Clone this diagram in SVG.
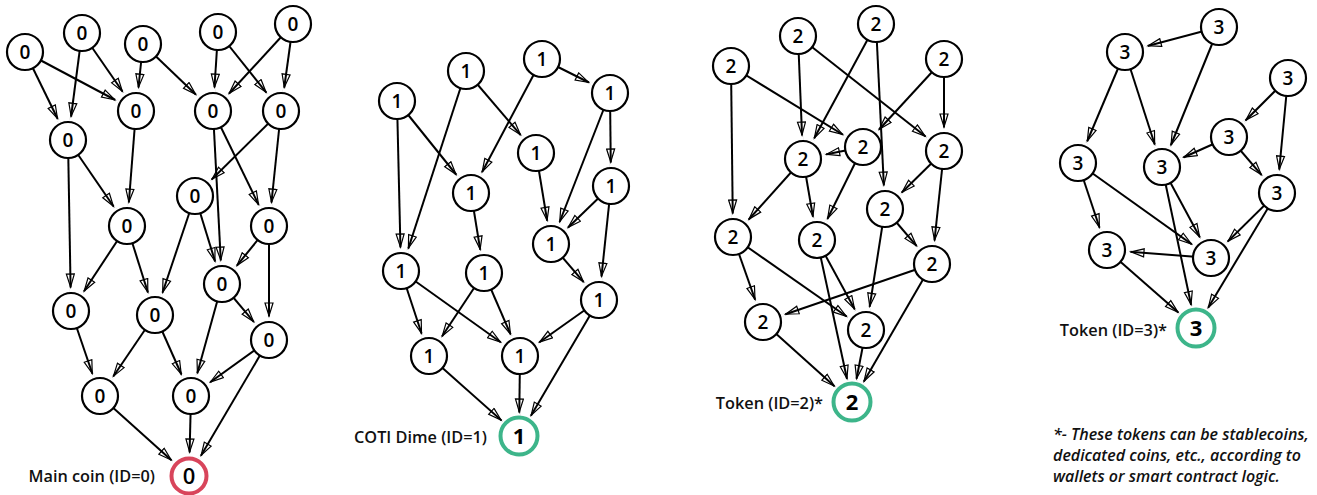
<svg xmlns="http://www.w3.org/2000/svg" width="1317" height="495" viewBox="0 0 1317 495">
<style>
.n circle{fill:#fff;stroke:#000;stroke-width:2.2}
.n text{font-family:"Open Sans","Noto Sans","Liberation Sans",sans-serif;font-size:19px;font-weight:600;text-anchor:middle;fill:#000}
.r circle{fill:#fff;stroke-width:4}
.r text{font-family:"Open Sans","Noto Sans","Liberation Sans",sans-serif;font-size:22px;font-weight:700;text-anchor:middle;fill:#000}
.red circle{stroke:#d8455b}
.red text{font-weight:600}
.grn circle{stroke:#3db58a}
.lbl{font-family:"Open Sans","Noto Sans","Liberation Sans",sans-serif;font-size:16.3px;font-weight:600;fill:#111}
.note{font-family:"Open Sans","Noto Sans","Liberation Sans",sans-serif;font-size:16px;font-weight:600;font-style:italic;fill:#111}
</style>
<defs>
<marker id="arr" markerUnits="userSpaceOnUse" viewBox="-1 -1 21 10" markerWidth="21" markerHeight="10" refX="37" refY="4" orient="auto">
<rect x="13.4" y="2.5" width="6" height="3" fill="#fff"/>
<path d="M0,0 L13,4 L0,8 z" fill="none" stroke="#000" stroke-width="1.2" stroke-linejoin="miter"/>
</marker>
</defs>
<g id="connectors" stroke="#000" stroke-width="2" marker-end="url(#arr)">
<line x1="25" y1="52" x2="68" y2="140"/>
<line x1="25" y1="52" x2="136" y2="111"/>
<line x1="82" y1="33" x2="68" y2="140"/>
<line x1="82" y1="33" x2="136" y2="111"/>
<line x1="143" y1="44" x2="136" y2="111"/>
<line x1="143" y1="44" x2="213" y2="111"/>
<line x1="218" y1="32" x2="213" y2="111"/>
<line x1="218" y1="32" x2="281" y2="111"/>
<line x1="293" y1="24" x2="213" y2="111"/>
<line x1="293" y1="24" x2="281" y2="111"/>
<line x1="136" y1="111" x2="127" y2="226"/>
<line x1="68" y1="140" x2="127" y2="226"/>
<line x1="68" y1="140" x2="71" y2="311"/>
<line x1="213" y1="111" x2="222" y2="284"/>
<line x1="213" y1="111" x2="269" y2="226"/>
<line x1="281" y1="111" x2="195" y2="196"/>
<line x1="281" y1="111" x2="269" y2="226"/>
<line x1="195" y1="196" x2="155" y2="315"/>
<line x1="195" y1="196" x2="222" y2="284"/>
<line x1="127" y1="226" x2="71" y2="311"/>
<line x1="127" y1="226" x2="155" y2="315"/>
<line x1="269" y1="226" x2="222" y2="284"/>
<line x1="269" y1="226" x2="269" y2="340"/>
<line x1="71" y1="311" x2="100" y2="396"/>
<line x1="155" y1="315" x2="100" y2="396"/>
<line x1="155" y1="315" x2="191" y2="396"/>
<line x1="222" y1="284" x2="191" y2="396"/>
<line x1="222" y1="284" x2="269" y2="340"/>
<line x1="269" y1="340" x2="191" y2="396"/>
<line x1="269" y1="340" x2="189" y2="476"/>
<line x1="100" y1="396" x2="189" y2="476"/>
<line x1="191" y1="396" x2="189" y2="476"/>

<line x1="397" y1="101" x2="401" y2="271"/>
<line x1="397" y1="101" x2="471" y2="193"/>
<line x1="466" y1="71" x2="401" y2="271"/>
<line x1="466" y1="71" x2="536" y2="153"/>
<line x1="542" y1="59" x2="471" y2="193"/>
<line x1="542" y1="59" x2="610" y2="93"/>
<line x1="610" y1="93" x2="551" y2="244"/>
<line x1="610" y1="93" x2="611" y2="186"/>
<line x1="536" y1="153" x2="551" y2="244"/>
<line x1="611" y1="186" x2="551" y2="244"/>
<line x1="611" y1="186" x2="599" y2="300"/>
<line x1="471" y1="193" x2="484" y2="273"/>
<line x1="551" y1="244" x2="599" y2="300"/>
<line x1="401" y1="271" x2="429" y2="356"/>
<line x1="401" y1="271" x2="520" y2="356"/>
<line x1="484" y1="273" x2="429" y2="356"/>
<line x1="484" y1="273" x2="520" y2="356"/>
<line x1="599" y1="300" x2="520" y2="356"/>
<line x1="599" y1="300" x2="519" y2="436"/>
<line x1="429" y1="356" x2="519" y2="436"/>
<line x1="520" y1="356" x2="519" y2="436"/>

<line x1="731" y1="66" x2="733" y2="237"/>
<line x1="731" y1="66" x2="863" y2="147"/>
<line x1="798" y1="36" x2="803" y2="159"/>
<line x1="798" y1="36" x2="944" y2="151"/>
<line x1="876" y1="24" x2="803" y2="159"/>
<line x1="876" y1="24" x2="885" y2="209"/>
<line x1="944" y1="59" x2="863" y2="147"/>
<line x1="944" y1="59" x2="944" y2="151"/>
<line x1="863" y1="147" x2="803" y2="159"/>
<line x1="863" y1="147" x2="817" y2="240"/>
<line x1="803" y1="159" x2="733" y2="237"/>
<line x1="803" y1="159" x2="817" y2="240"/>
<line x1="944" y1="151" x2="885" y2="209"/>
<line x1="944" y1="151" x2="932" y2="264"/>
<line x1="885" y1="209" x2="932" y2="264"/>
<line x1="885" y1="209" x2="866" y2="330"/>
<line x1="733" y1="237" x2="763" y2="322"/>
<line x1="733" y1="237" x2="866" y2="330"/>
<line x1="817" y1="240" x2="866" y2="330"/>
<line x1="817" y1="240" x2="852" y2="402"/>
<line x1="932" y1="264" x2="763" y2="322"/>
<line x1="932" y1="264" x2="852" y2="402"/>
<line x1="763" y1="322" x2="852" y2="402"/>
<line x1="866" y1="330" x2="852" y2="402"/>

<line x1="1219" y1="27" x2="1125" y2="52"/>
<line x1="1219" y1="27" x2="1162" y2="167"/>
<line x1="1125" y1="52" x2="1078" y2="163"/>
<line x1="1125" y1="52" x2="1162" y2="167"/>
<line x1="1288" y1="78" x2="1229" y2="137"/>
<line x1="1288" y1="78" x2="1277" y2="193"/>
<line x1="1229" y1="137" x2="1162" y2="167"/>
<line x1="1229" y1="137" x2="1277" y2="193"/>
<line x1="1078" y1="163" x2="1107" y2="250"/>
<line x1="1078" y1="163" x2="1211" y2="258"/>
<line x1="1162" y1="167" x2="1196" y2="328"/>
<line x1="1162" y1="167" x2="1211" y2="258"/>
<line x1="1277" y1="193" x2="1211" y2="258"/>
<line x1="1277" y1="193" x2="1196" y2="328"/>
<line x1="1211" y1="258" x2="1107" y2="250"/>
<line x1="1107" y1="250" x2="1196" y2="328"/>
</g>

<g id="g0-a" class="n"><circle cx="25" cy="52" r="18"/><text x="25" y="59">0</text></g>
<g id="g0-b" class="n"><circle cx="82" cy="33" r="18"/><text x="82" y="40">0</text></g>
<g id="g0-c" class="n"><circle cx="143" cy="44" r="18"/><text x="143" y="51">0</text></g>
<g id="g0-d" class="n"><circle cx="218" cy="32" r="18"/><text x="218" y="39">0</text></g>
<g id="g0-e" class="n"><circle cx="293" cy="24" r="18"/><text x="293" y="31">0</text></g>
<g id="g0-f" class="n"><circle cx="136" cy="111" r="18"/><text x="136" y="118">0</text></g>
<g id="g0-g" class="n"><circle cx="68" cy="140" r="18"/><text x="68" y="147">0</text></g>
<g id="g0-h" class="n"><circle cx="213" cy="111" r="18"/><text x="213" y="118">0</text></g>
<g id="g0-i" class="n"><circle cx="281" cy="111" r="18"/><text x="281" y="118">0</text></g>
<g id="g0-j" class="n"><circle cx="195" cy="196" r="18"/><text x="195" y="203">0</text></g>
<g id="g0-k" class="n"><circle cx="127" cy="226" r="18"/><text x="127" y="233">0</text></g>
<g id="g0-l" class="n"><circle cx="269" cy="226" r="18"/><text x="269" y="233">0</text></g>
<g id="g0-m" class="n"><circle cx="71" cy="311" r="18"/><text x="71" y="318">0</text></g>
<g id="g0-n" class="n"><circle cx="155" cy="315" r="18"/><text x="155" y="322">0</text></g>
<g id="g0-o" class="n"><circle cx="222" cy="284" r="18"/><text x="222" y="291">0</text></g>
<g id="g0-p" class="n"><circle cx="269" cy="340" r="18"/><text x="269" y="347">0</text></g>
<g id="g0-q" class="n"><circle cx="100" cy="396" r="18"/><text x="100" y="403">0</text></g>
<g id="g0-r" class="n"><circle cx="191" cy="396" r="18"/><text x="191" y="403">0</text></g>
<g id="root0" class="r red"><circle cx="189" cy="476" r="17.5"/><text x="189" y="484">0</text></g>

<g id="g1-a" class="n"><circle cx="397" cy="101" r="18"/><text x="397" y="108">1</text></g>
<g id="g1-b" class="n"><circle cx="466" cy="71" r="18"/><text x="466" y="78">1</text></g>
<g id="g1-c" class="n"><circle cx="542" cy="59" r="18"/><text x="542" y="66">1</text></g>
<g id="g1-d" class="n"><circle cx="610" cy="93" r="18"/><text x="610" y="100">1</text></g>
<g id="g1-e" class="n"><circle cx="536" cy="153" r="18"/><text x="536" y="160">1</text></g>
<g id="g1-f" class="n"><circle cx="471" cy="193" r="18"/><text x="471" y="200">1</text></g>
<g id="g1-g" class="n"><circle cx="611" cy="186" r="18"/><text x="611" y="193">1</text></g>
<g id="g1-h" class="n"><circle cx="551" cy="244" r="18"/><text x="551" y="251">1</text></g>
<g id="g1-i" class="n"><circle cx="401" cy="271" r="18"/><text x="401" y="278">1</text></g>
<g id="g1-j" class="n"><circle cx="484" cy="273" r="18"/><text x="484" y="280">1</text></g>
<g id="g1-k" class="n"><circle cx="599" cy="300" r="18"/><text x="599" y="307">1</text></g>
<g id="g1-l" class="n"><circle cx="429" cy="356" r="18"/><text x="429" y="363">1</text></g>
<g id="g1-m" class="n"><circle cx="520" cy="356" r="18"/><text x="520" y="363">1</text></g>
<g id="root1" class="r grn"><circle cx="519" cy="436" r="18.5"/><text x="519" y="444">1</text></g>

<g id="g2-a" class="n"><circle cx="731" cy="66" r="18"/><text x="731" y="73">2</text></g>
<g id="g2-b" class="n"><circle cx="798" cy="36" r="18"/><text x="798" y="43">2</text></g>
<g id="g2-c" class="n"><circle cx="876" cy="24" r="18"/><text x="876" y="31">2</text></g>
<g id="g2-d" class="n"><circle cx="944" cy="59" r="18"/><text x="944" y="66">2</text></g>
<g id="g2-e" class="n"><circle cx="863" cy="147" r="18"/><text x="863" y="154">2</text></g>
<g id="g2-f" class="n"><circle cx="803" cy="159" r="18"/><text x="803" y="166">2</text></g>
<g id="g2-g" class="n"><circle cx="944" cy="151" r="18"/><text x="944" y="158">2</text></g>
<g id="g2-h" class="n"><circle cx="885" cy="209" r="18"/><text x="885" y="216">2</text></g>
<g id="g2-i" class="n"><circle cx="733" cy="237" r="18"/><text x="733" y="244">2</text></g>
<g id="g2-j" class="n"><circle cx="817" cy="240" r="18"/><text x="817" y="247">2</text></g>
<g id="g2-k" class="n"><circle cx="932" cy="264" r="18"/><text x="932" y="271">2</text></g>
<g id="g2-l" class="n"><circle cx="763" cy="322" r="18"/><text x="763" y="329">2</text></g>
<g id="g2-m" class="n"><circle cx="866" cy="330" r="18"/><text x="866" y="337">2</text></g>
<g id="root2" class="r grn"><circle cx="852" cy="402" r="18.5"/><text x="852" y="410">2</text></g>

<g id="g3-a" class="n"><circle cx="1219" cy="27" r="18"/><text x="1219" y="34">3</text></g>
<g id="g3-b" class="n"><circle cx="1125" cy="52" r="18"/><text x="1125" y="59">3</text></g>
<g id="g3-c" class="n"><circle cx="1288" cy="78" r="18"/><text x="1288" y="85">3</text></g>
<g id="g3-d" class="n"><circle cx="1229" cy="137" r="18"/><text x="1229" y="144">3</text></g>
<g id="g3-e" class="n"><circle cx="1078" cy="163" r="18"/><text x="1078" y="170">3</text></g>
<g id="g3-f" class="n"><circle cx="1162" cy="167" r="18"/><text x="1162" y="174">3</text></g>
<g id="g3-g" class="n"><circle cx="1277" cy="193" r="18"/><text x="1277" y="200">3</text></g>
<g id="g3-h" class="n"><circle cx="1107" cy="250" r="18"/><text x="1107" y="257">3</text></g>
<g id="g3-i" class="n"><circle cx="1211" cy="258" r="18"/><text x="1211" y="265">3</text></g>
<g id="root3" class="r grn"><circle cx="1196" cy="328" r="18.5"/><text x="1196" y="336">3</text></g>

<g id="labels">
<text class="lbl" x="155" y="482" text-anchor="end">Main coin (ID=0)</text>
<text class="lbl" x="487" y="443" text-anchor="end">COTI Dime (ID=1)</text>
<text class="lbl" x="823" y="409" text-anchor="end">Token (ID=2)*</text>
<text class="lbl" x="1167" y="336" text-anchor="end">Token (ID=3)*</text>
<text class="note" x="1053" y="440">*- These tokens can be stablecoins,</text>
<text class="note" x="1053" y="461">dedicated coins, etc., according to</text>
<text class="note" x="1053" y="482">wallets or smart contract logic.</text>
</g>
</svg>
